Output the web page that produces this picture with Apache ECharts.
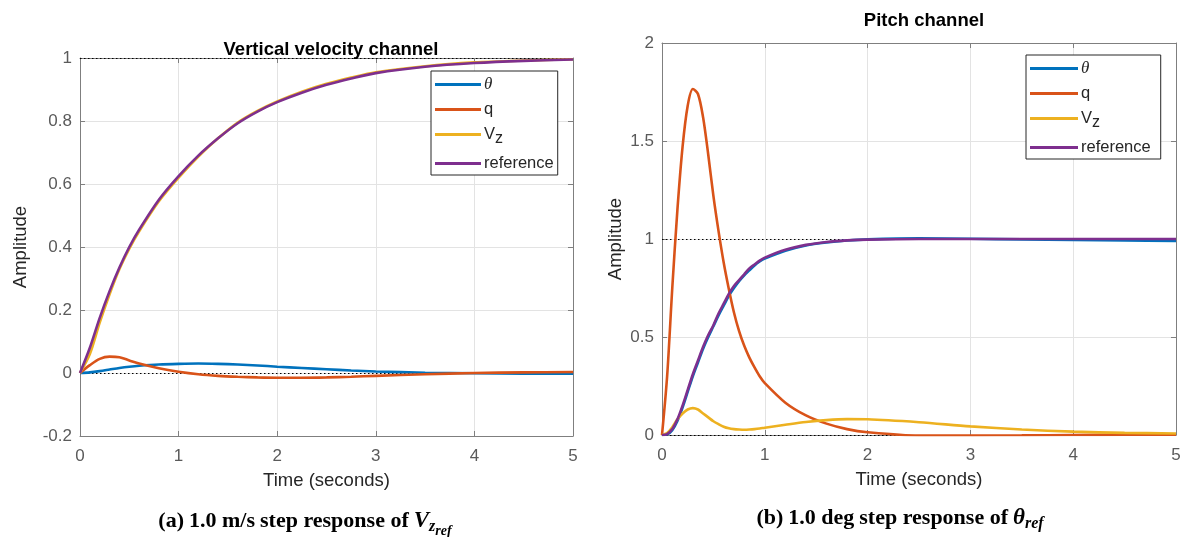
<!DOCTYPE html>
<html>
<head>
<meta charset="utf-8">
<script src="https://cdn.jsdelivr.net/npm/echarts@6/dist/echarts.min.js"></script>
<style>
  html, body { margin: 0; padding: 0; background: #fff; }
  #chart-box { width: 1190px; height: 537px; }
</style>
</head>
<body>
<div id="chart-box"></div>
<script>
// ---- data: left panel (Vz step) ----
var tLeft = [0, 0.1, 0.2, 0.3, 0.4, 0.5, 0.6, 0.8, 1.0, 1.2, 1.4, 1.6, 1.8, 2.0, 2.25, 2.5, 2.75, 3.0, 3.5, 4.0, 4.5, 5.0];
var thetaLeft = [0, 0.002, 0.006, 0.011, 0.016, 0.02, 0.023, 0.027, 0.029, 0.03, 0.029, 0.027, 0.024, 0.02, 0.016, 0.012, 0.008, 0.005, 0.001, -0.001, -0.002, -0.002];
var qLeft = [0, 0.025, 0.045, 0.052, 0.05, 0.04, 0.03, 0.015, 0.004, -0.004, -0.009, -0.012, -0.014, -0.015, -0.015, -0.014, -0.012, -0.009, -0.004, 0, 0.002, 0.003];
var vzLeft = [0, 0.06, 0.16, 0.25, 0.33, 0.395, 0.45, 0.545, 0.62, 0.687, 0.745, 0.795, 0.832, 0.862, 0.893, 0.918, 0.938, 0.955, 0.974, 0.986, 0.992, 0.996];
var refLeft = [0, 0.08, 0.175, 0.26, 0.335, 0.40, 0.455, 0.55, 0.625, 0.69, 0.745, 0.793, 0.83, 0.86, 0.89, 0.915, 0.935, 0.952, 0.972, 0.984, 0.991, 0.995];

// ---- data: right panel (theta step) ----
var tRight = [0, 0.05, 0.1, 0.15, 0.2, 0.25, 0.3, 0.35, 0.4, 0.45, 0.5, 0.55, 0.6, 0.65, 0.7, 0.75, 0.8, 0.85, 0.9, 0.95, 1.0, 1.2, 1.4, 1.6, 1.8, 2.0, 2.5, 3.0, 3.5, 4.0, 4.5, 5.0];
var thetaRight = [0, 0.003, 0.025, 0.072, 0.14, 0.22, 0.30, 0.37, 0.44, 0.50, 0.555, 0.61, 0.66, 0.71, 0.75, 0.785, 0.815, 0.84, 0.865, 0.885, 0.9, 0.94, 0.967, 0.982, 0.992, 0.998, 1.003, 1.001, 0.998, 0.995, 0.992, 0.99];
var qRight = [0, 0.3, 0.75, 1.15, 1.47, 1.68, 1.765, 1.74, 1.62, 1.43, 1.22, 1.04, 0.88, 0.745, 0.625, 0.53, 0.455, 0.395, 0.345, 0.30, 0.265, 0.165, 0.1, 0.058, 0.03, 0.014, -0.003, -0.003, -0.002, 0, 0.001, 0.002];
var vzRight = [0, 0.01, 0.04, 0.08, 0.11, 0.13, 0.137, 0.13, 0.11, 0.09, 0.07, 0.055, 0.042, 0.034, 0.03, 0.028, 0.027, 0.028, 0.03, 0.033, 0.037, 0.052, 0.066, 0.076, 0.081, 0.08, 0.065, 0.044, 0.028, 0.017, 0.011, 0.008];
var refRight = [0, 0.005, 0.03, 0.08, 0.15, 0.23, 0.31, 0.38, 0.45, 0.51, 0.56, 0.62, 0.67, 0.72, 0.76, 0.79, 0.82, 0.85, 0.87, 0.89, 0.905, 0.945, 0.97, 0.985, 0.993, 0.997, 1.0, 1.0, 1.0, 1.0, 1.0, 1.0];

var seriesNames = ['θ', 'q', 'Vz', 'reference'];
var seriesColors = ['#0072BD', '#D95319', '#EDB120', '#7E2F8E'];

chart();

function pairs(t, v) {
    return t.map(function (x, i) { return [x, v[i]]; });
}

function chart() {
    var chartDom = document.getElementById('chart-box');
    var myChart = echarts.init(chartDom);
    var option;

    var font = 'Liberation Sans, Arial, sans-serif';
    var serif = 'Liberation Serif, Times New Roman, serif';
    var axisGray = '#7f7f7f';

    // bottom/left axes carry labels, top/right only ticks (box on)
    function xAx(grid, pos, showLabel) {
        return {
            type: 'value', gridIndex: grid, position: pos, min: 0, max: 5, interval: 1,
            axisLine: { show: true, onZero: false, lineStyle: { color: axisGray, width: 1 } },
            axisTick: { show: true, inside: true, length: 5, lineStyle: { color: axisGray } },
            axisLabel: { show: showLabel, color: '#5a5a5a', fontSize: 17, fontFamily: font, margin: 12 },
            splitLine: { show: showLabel, lineStyle: { color: '#e3e3e3' } },
            name: showLabel ? 'Time (seconds)' : '',
            nameLocation: 'middle', nameGap: 35,
            nameTextStyle: { color: '#262626', fontSize: 18.5, fontFamily: font }
        };
    }
    function yAx(grid, pos, showLabel, min, max, step, gap) {
        return {
            type: 'value', gridIndex: grid, position: pos, min: min, max: max, interval: step,
            axisLine: { show: true, onZero: false, lineStyle: { color: axisGray, width: 1 } },
            axisTick: { show: true, inside: true, length: 5, lineStyle: { color: axisGray } },
            axisLabel: { show: showLabel, color: '#5a5a5a', fontSize: 17, fontFamily: font, margin: 8 },
            splitLine: { show: showLabel, lineStyle: { color: '#e3e3e3' } },
            name: showLabel ? 'Amplitude' : '',
            nameLocation: 'middle', nameGap: gap,
            nameTextStyle: { color: '#262626', fontSize: 18.5, fontFamily: font }
        };
    }

    function lines(t, data, xi, yi) {
        return data.map(function (vals, k) {
            var s = {
                name: seriesNames[k],
                type: 'line',
                xAxisIndex: xi, yAxisIndex: yi,
                data: pairs(t, vals),
                smooth: 0.3,
                showSymbol: false,
                symbol: 'none',
                lineStyle: { width: 2.6, color: seriesColors[k] },
                itemStyle: { color: seriesColors[k] },
                z: 3 + k
            };
            if (k === 0) {
                // steady state dotted lines
                s.markLine = {
                    silent: true, symbol: 'none', label: { show: false },
                    lineStyle: { color: '#000', type: [1.5, 2.5], width: 1 },
                    data: [{ yAxis: 1 }, { yAxis: 0 }],
                    z: 2
                };
            }
            return s;
        });
    }

    var legendRich = {
        th: { fontFamily: serif, fontStyle: 'italic', fontSize: 17, color: '#262626' },
        sub: { fontSize: 16, color: '#262626', fontFamily: font, padding: [9, 0, 0, 0] }
    };
    function legend(left, top, w, padRight) {
        return {
            orient: 'vertical', left: left, top: top,
            data: seriesNames,
            icon: 'rect', itemWidth: w, itemHeight: 3, itemGap: 8,
            padding: [5, padRight, 3, 4],
            borderColor: '#262626', borderWidth: 1, backgroundColor: '#fff',
            textStyle: { color: '#262626', fontSize: 16.5, fontFamily: font, rich: legendRich, padding: [0, 0, 0, -2] },
            formatter: function (n) {
                if (n === 'θ') return '{th|θ}';
                if (n === 'Vz') return 'V{sub|z}';
                return n;
            }
        };
    }

    var capRich = {
        b: { fontFamily: serif, fontWeight: 'bold', fontSize: 22, color: '#000' },
        r: { fontFamily: serif, fontSize: 22, color: '#000' },
        i: { fontFamily: serif, fontStyle: 'italic', fontSize: 23, color: '#000' },
        s1: { fontFamily: serif, fontStyle: 'italic', fontSize: 16, color: '#000', padding: [11, 0, 0, 0] },
        s2: { fontFamily: serif, fontStyle: 'italic', fontSize: 14, color: '#000', padding: [19, 0, 0, 0] },
        s3: { fontFamily: serif, fontStyle: 'italic', fontSize: 16, color: '#000', padding: [11, 0, 0, 0] }
    };

    option = {
        animation: false,
        backgroundColor: '#fff',
        title: [
            { text: 'Vertical velocity channel', left: 326, top: 35, textAlign: 'center',
              textStyle: { fontSize: 18.5, fontWeight: 'bold', color: '#000', fontFamily: font } },
            { text: 'Pitch channel', left: 919, top: 6, textAlign: 'center',
              textStyle: { fontSize: 18.5, fontWeight: 'bold', color: '#000', fontFamily: font } },
            { text: '{b|(a)} {r|1.0 m/s} {b|step response of} {i|V}{s1|z}{s2|ref}', left: 300, top: 500, textAlign: 'center',
              textStyle: { rich: capRich } },
            { text: '{b|(b)} {r|1.0 deg} {b|step response of} {i|θ}{s3|ref}', left: 895, top: 500, textAlign: 'center',
              textStyle: { rich: capRich } }
        ],
        legend: [legend(431, 71, 46, 4), legend(1026, 55, 48, 10)],
        grid: [
            { left: 80, top: 58, width: 493, height: 378 },
            { left: 662, top: 43, width: 514, height: 392 }
        ],
        xAxis: [xAx(0, 'bottom', true), xAx(0, 'top', false), xAx(1, 'bottom', true), xAx(1, 'top', false)],
        yAxis: [
            yAx(0, 'left', true, -0.2, 1, 0.2, 50), yAx(0, 'right', false, -0.2, 1, 0.2, 0),
            yAx(1, 'left', true, 0, 2, 0.5, 37), yAx(1, 'right', false, 0, 2, 0.5, 0)
        ],
        series: lines(tLeft, [thetaLeft, qLeft, vzLeft, refLeft], 0, 0)
            .concat(lines(tRight, [thetaRight, qRight, vzRight, refRight], 2, 2))
    };

    option && myChart.setOption(option);
}
</script>
</body>
</html>
